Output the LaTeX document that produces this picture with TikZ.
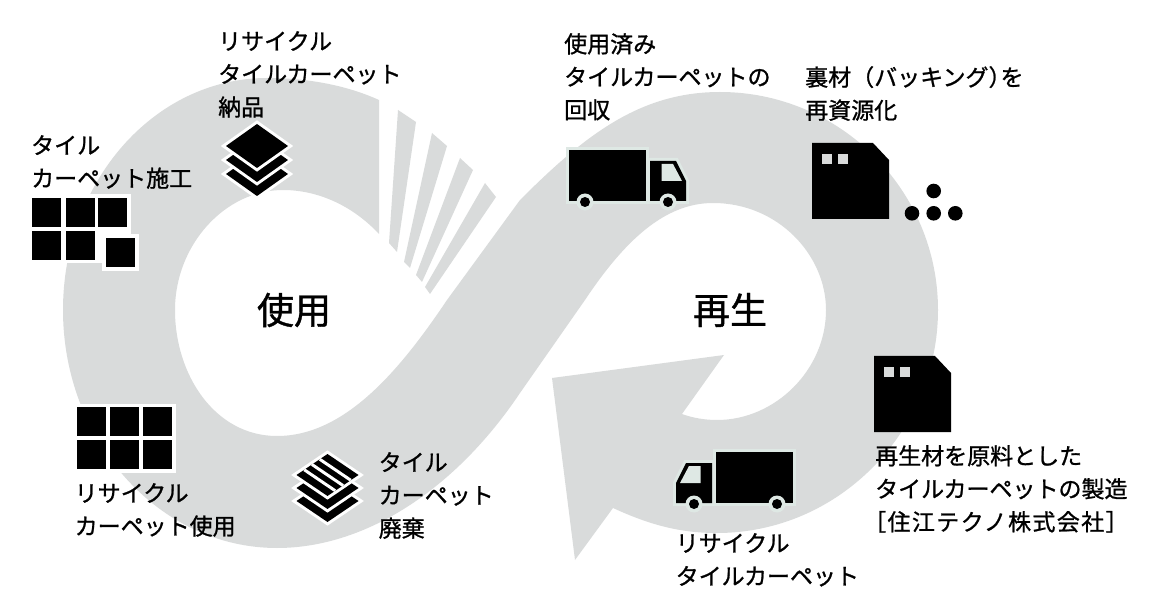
\documentclass[tikz,border=0pt]{standalone}
\usepackage{fontspec}
\setmainfont{Noto Sans CJK JP}[FakeBold=1]
\usetikzlibrary{calc}
\definecolor{bandgrey}{RGB}{217,219,219}
\definecolor{truckhalo}{RGB}{222,232,228}

\begin{document}
\begin{tikzpicture}[
    x=1pt,
    y=-1pt,
    step label/.style={
      anchor=north west,
      align=left,
      inner sep=0pt,
      font=\fontsize{23}{33}\selectfont
    },
    loop label/.style={
      inner sep=0pt,
      font=\fontsize{37}{40}\selectfont
    },
    tile/.style={
      fill=black
    },
    layer/.style={
      fill=black,
      preaction={draw=white,line width=6pt,miter limit=10}
    },
    truck part/.style={
      fill=black,
      preaction={draw=truckhalo,line width=6pt}
    },
    pics/truck/.style={
      code={
        \path[truck part] (0,0) rectangle (77,51);
        \path[truck part] (81,11) -- (107,11) -- (117,31) -- (117,51) -- (81,51) -- cycle;
        \fill[truckhalo] (92.5,14) -- (104,14) -- (113,31) -- (92.5,31) -- cycle;
        \foreach \x in {16,99}{
          \fill[truckhalo] (\x,52) circle (8.5pt);
          \fill[black] (\x,52) circle (5pt);
        }
      }
    },
    pics/bale/.style={
      code={
        \fill[black] (0,0) -- (61,0) -- (77,17) -- (77,76) -- (0,76) -- cycle;
        \fill[bandgrey] (10,11) rectangle (20,21);
        \fill[bandgrey] (26,11) rectangle (36,21);
      }
    }
]
\useasboundingbox (0,0) rectangle (1149,612);

% Infinity band with its arrow head.
\fill[bandgrey] (379,100)
  .. controls (346,85) and (307,78) .. (267,78)
  .. controls (154,78) and (63,182) .. (63,310)
  .. controls (63,441) and (159,548) .. (277,548)
  .. controls (365,548) and (455,490) .. (520,393)
  -- (585,300)
  .. controls (625,240) and (665,203) .. (713,203)
  .. controls (778,203) and (826,255) .. (826,310)
  .. controls (826,370) and (775,420) .. (717,420)
  .. controls (705,420) and (693,418) .. (682,414)
  -- (724,355) -- (552,378) -- (575,560) -- (613,508)
  .. controls (650,525) and (680,533) .. (717,533)
  .. controls (840,533) and (938,430) .. (938,310)
  .. controls (938,190) and (840,92) .. (720,92)
  .. controls (640,92) and (585,135) .. (520,200)
  -- (447,300)
  .. controls (400,370) and (345,436) .. (277,436)
  .. controls (215,436) and (175,375) .. (175,310)
  .. controls (175,245) and (225,190) .. (283,190)
  .. controls (317,190) and (352,205) .. (379,234)
  -- cycle;

% Strips where the band breaks up.
\foreach \ax/\ay/\bx/\by/\cx/\cy/\dx/\dy in {
  398/110/416/122/397/252/389/243,
  432/133/447/146/410/268/404/262,
  460/158/473/170/422/282/416/275,
  485/183/496/197/430/294/425/287
}{
  \fill[bandgrey] (\ax,\ay) -- (\bx,\by) -- (\cx,\cy) -- (\dx,\dy) -- cycle;
}

% Centre labels.
\node[loop label] (use) at (294,310) {使用};
\node[loop label] (regen) at (730,310) {再生};

% Stacked tiles, delivery.
\foreach \y in {174,160,146}
  \path[layer] (257,\y-22) -- (288,\y) -- (257,\y+22) -- (226,\y) -- cycle;

% Laid tiles.
\fill[white] (28.5,194.5) rectangle (130.5,263);
\foreach \x in {32,66,98}
  \fill[tile] (\x,198) rectangle +(29,29);
\foreach \x in {32,66}
  \fill[tile] (\x,231) rectangle +(29,29);
\fill[white] (102,234.5) rectangle (138.5,271);
\fill[tile] (106,238) rectangle +(29,29);

% Recycled carpet in use.
\fill[white] (73.5,403.5) rectangle (175.5,472.5);
\foreach \x in {77,110,143}
  \foreach \y in {407,440}
    \fill[tile] (\x,\y) rectangle +(29,29);

% Stacked tiles, disposal.
\foreach \y in {501,488}
  \path[layer] (327.5,\y-21) -- (358.5,\y) -- (327.5,\y+21) -- (296.5,\y) -- cycle;
\coordinate (topn) at (327.5,454);
\coordinate (tope) at (358.5,475);
\coordinate (tops) at (327.5,496);
\coordinate (topw) at (296.5,475);
\path[layer] (topn) -- (tope) -- (tops) -- (topw) -- cycle;
\foreach \t in {0.25,0.5,0.75}
  \draw[white,line width=3pt] ($(topn)!\t!(topw)$) -- ($(tope)!\t!(tops)$);

% Trucks.
\pic at (569,150) {truck};
\pic[xscale=-1] at (793,452) {truck};

% Bales and granulate.
\pic at (812,143) {bale};
\pic at (874,356) {bale};
\foreach \x/\y in {933.7/191,912/213.3,933.7/213.3,955.3/213.3}
  \fill[black] (\x,\y) circle (7.3pt);

% Step labels.
\node[step label] (deliver) at (218,31) {リサイクル\\タイルカーペット\\納品};
\node[step label] (lay) at (31,135) {タイル\\カーペット施工};
\node[step label] (collect) at (564,33) {使用済み\\タイルカーペットの\\回収};
\node[step label] (backing) at (805,66) {裏材（バッキング）\kern-11pt を\\再資源化};
\node[step label] (make) at (875,445) {再生材を原料とした\\タイルカーペットの製造\\\hspace*{-12pt}{\addfontfeature{LetterSpace=6}［住江テクノ株式会社］}};
\node[step label] (ship) at (675.5,533) {リサイクル\\タイルカーペット};
\node[step label] (discard) at (378.5,452) {タイル\\カーペット\\廃棄};
\node[step label] (reuse) at (74.5,483) {リサイクル\\カーペット使用};

\end{tikzpicture}
\end{document}
